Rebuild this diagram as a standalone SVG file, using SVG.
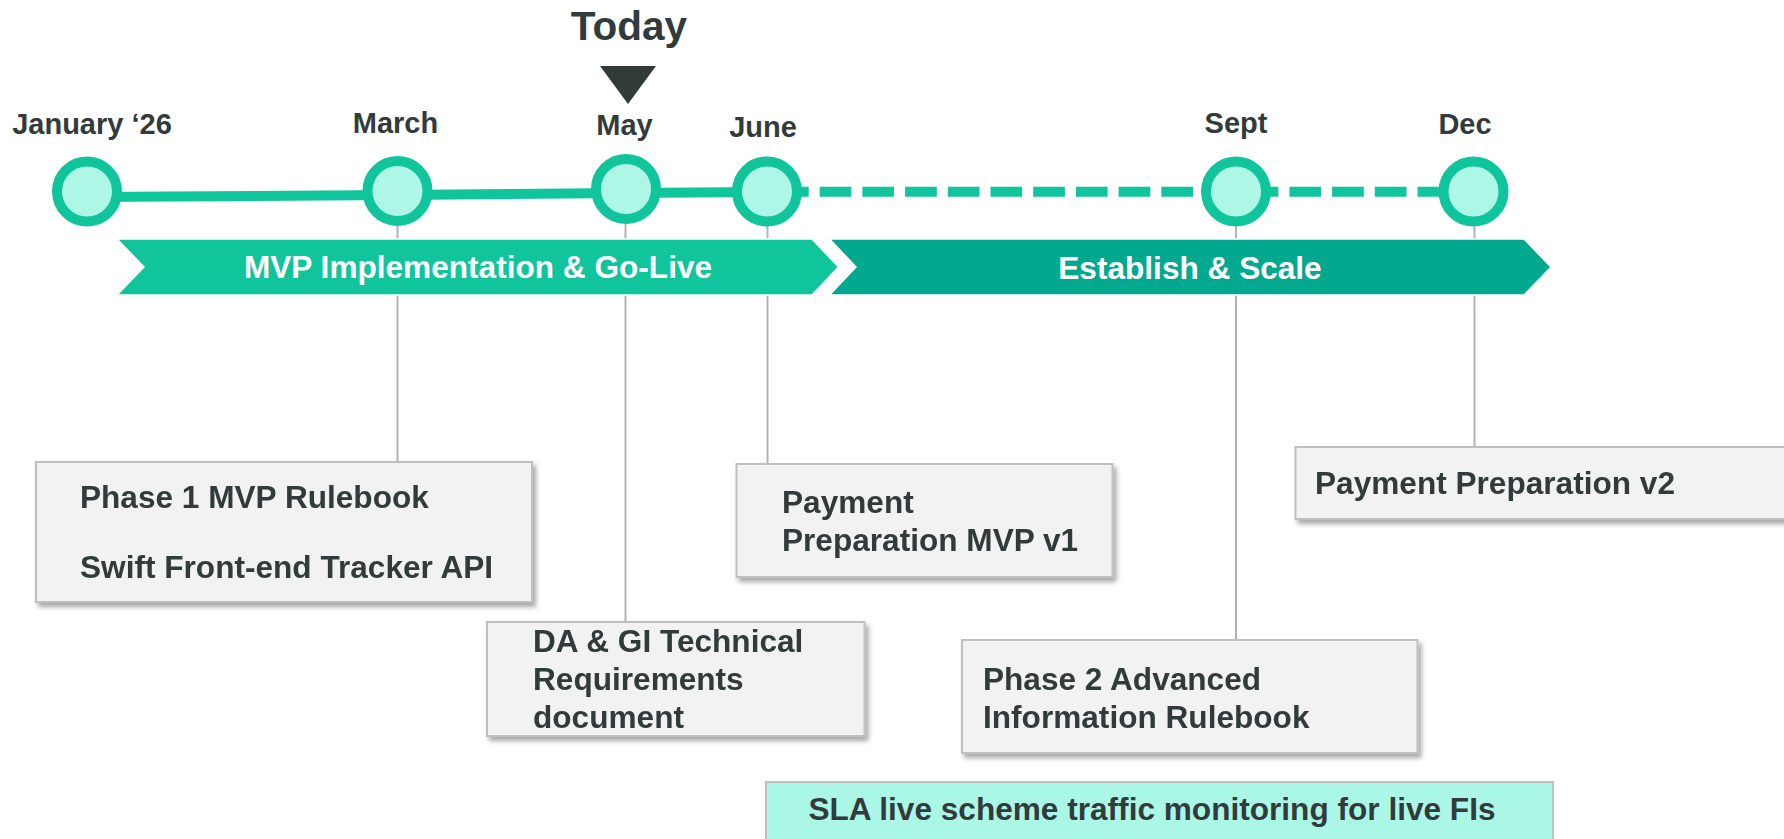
<svg xmlns="http://www.w3.org/2000/svg" width="1784" height="839" viewBox="0 0 1784 839">
<defs>
<style>
.lbl{font-family:"Liberation Sans",Arial,sans-serif;font-weight:bold;fill:#323B3B;}
.mon{font-size:29px;text-anchor:middle;}
.box{fill:#F2F2F2;stroke:#BFBFBF;stroke-width:2;}
.btx{font-size:31.6px;}
.chev{font-family:"Liberation Sans",Arial,sans-serif;font-weight:bold;font-size:31.6px;fill:#FFFFFF;text-anchor:middle;}
.ms{fill:#AEF7E6;stroke:#10C49C;stroke-width:10;}
.conn{stroke:#B3B3B3;stroke-width:2;fill:none;}
</style>
<filter id="sh" x="-5%" y="-10%" width="115%" height="130%">
<feDropShadow dx="3" dy="4" stdDeviation="2.5" flood-color="#000" flood-opacity="0.35"/>
</filter>
</defs>
<rect width="1784" height="839" fill="#FFFFFF"/>

<g id="today">
<text class="lbl" x="629" y="40" font-size="40.5" text-anchor="middle">Today</text>
<polygon points="600,66 656,66 628,104" fill="#323A3A"/>
</g>

<g id="connectors">
<line class="conn" x1="397.5" y1="226" x2="397.5" y2="462"/>
<line class="conn" x1="625.5" y1="224" x2="625.5" y2="622"/>
<line class="conn" x1="767.5" y1="226" x2="767.5" y2="464"/>
<line class="conn" x1="1236" y1="226" x2="1236" y2="640"/>
<line class="conn" x1="1474.5" y1="226" x2="1474.5" y2="447"/>
<polyline points="87,197 397,195 626,193 767,192" fill="none" stroke="#10C49C" stroke-width="10"/>
<line x1="777" y1="191.7" x2="1470" y2="191.7" stroke="#10C49C" stroke-width="10" stroke-dasharray="31.7 11"/>
</g>

<g id="phase-mvp">
<polygon points="117,239 812,239 838.5,267 812,295 117,295 144,267" fill="#10C49C" stroke="#FFFFFF" stroke-width="1.5"/>
<text class="chev" x="478" y="278">MVP Implementation &amp; Go-Live</text>
</g>
<g id="phase-scale">
<polygon points="829.5,239 1524,239 1551,267 1524,295 829.5,295 856,267" fill="#02A98F" stroke="#FFFFFF" stroke-width="1.5"/>
<text class="chev" x="1190" y="279">Establish &amp; Scale</text>
</g>

<g id="m-jan"><circle class="ms" cx="87" cy="191.5" r="30"/><text class="lbl mon" x="92" y="134">January ‘26</text></g>
<g id="m-mar"><circle class="ms" cx="397.5" cy="191" r="30"/><text class="lbl mon" x="395.5" y="132.7">March</text></g>
<g id="m-may"><circle class="ms" cx="626" cy="189" r="30"/><text class="lbl mon" x="624.5" y="135">May</text></g>
<g id="m-jun"><circle class="ms" cx="767" cy="191.5" r="30"/><text class="lbl mon" x="763" y="136.7">June</text></g>
<g id="m-sep"><circle class="ms" cx="1236" cy="191.5" r="30"/><text class="lbl mon" x="1236" y="133.3">Sept</text></g>
<g id="m-dec"><circle class="ms" cx="1473.5" cy="191.5" r="30"/><text class="lbl mon" x="1465" y="134">Dec</text></g>

<g id="box-phase1" filter="url(#sh)">
<rect class="box" x="36" y="462" width="496" height="140"/>
<text class="lbl btx" x="80" y="508">Phase 1 MVP Rulebook</text>
<text class="lbl btx" x="80" y="578">Swift Front-end Tracker API</text>
</g>
<g id="box-dagi" filter="url(#sh)">
<rect class="box" x="487" y="622" width="377.5" height="114"/>
<text class="lbl btx" x="533" y="652.3">DA &amp; GI Technical</text>
<text class="lbl btx" x="533" y="690">Requirements</text>
<text class="lbl btx" x="533" y="728">document</text>
</g>
<g id="box-payv1" filter="url(#sh)">
<rect class="box" x="736.5" y="464" width="376" height="113"/>
<text class="lbl btx" x="782" y="513">Payment</text>
<text class="lbl btx" x="782" y="551">Preparation MVP v1</text>
</g>
<g id="box-payv2" filter="url(#sh)">
<rect class="box" x="1295.5" y="447" width="520" height="72"/>
<text class="lbl btx" x="1315" y="494">Payment Preparation v2</text>
</g>
<g id="box-phase2" filter="url(#sh)">
<rect class="box" x="962" y="640" width="455.5" height="113"/>
<text class="lbl btx" x="983" y="690">Phase 2 Advanced</text>
<text class="lbl btx" x="983" y="727.7">Information Rulebook</text>
</g>
<g id="box-sla">
<rect x="766" y="782" width="787" height="70" fill="#ABF7E6" stroke="#BFBFBF" stroke-width="2"/>
<text class="lbl btx" x="1152" y="820" text-anchor="middle">SLA live scheme traffic monitoring for live FIs</text>
</g>
</svg>
